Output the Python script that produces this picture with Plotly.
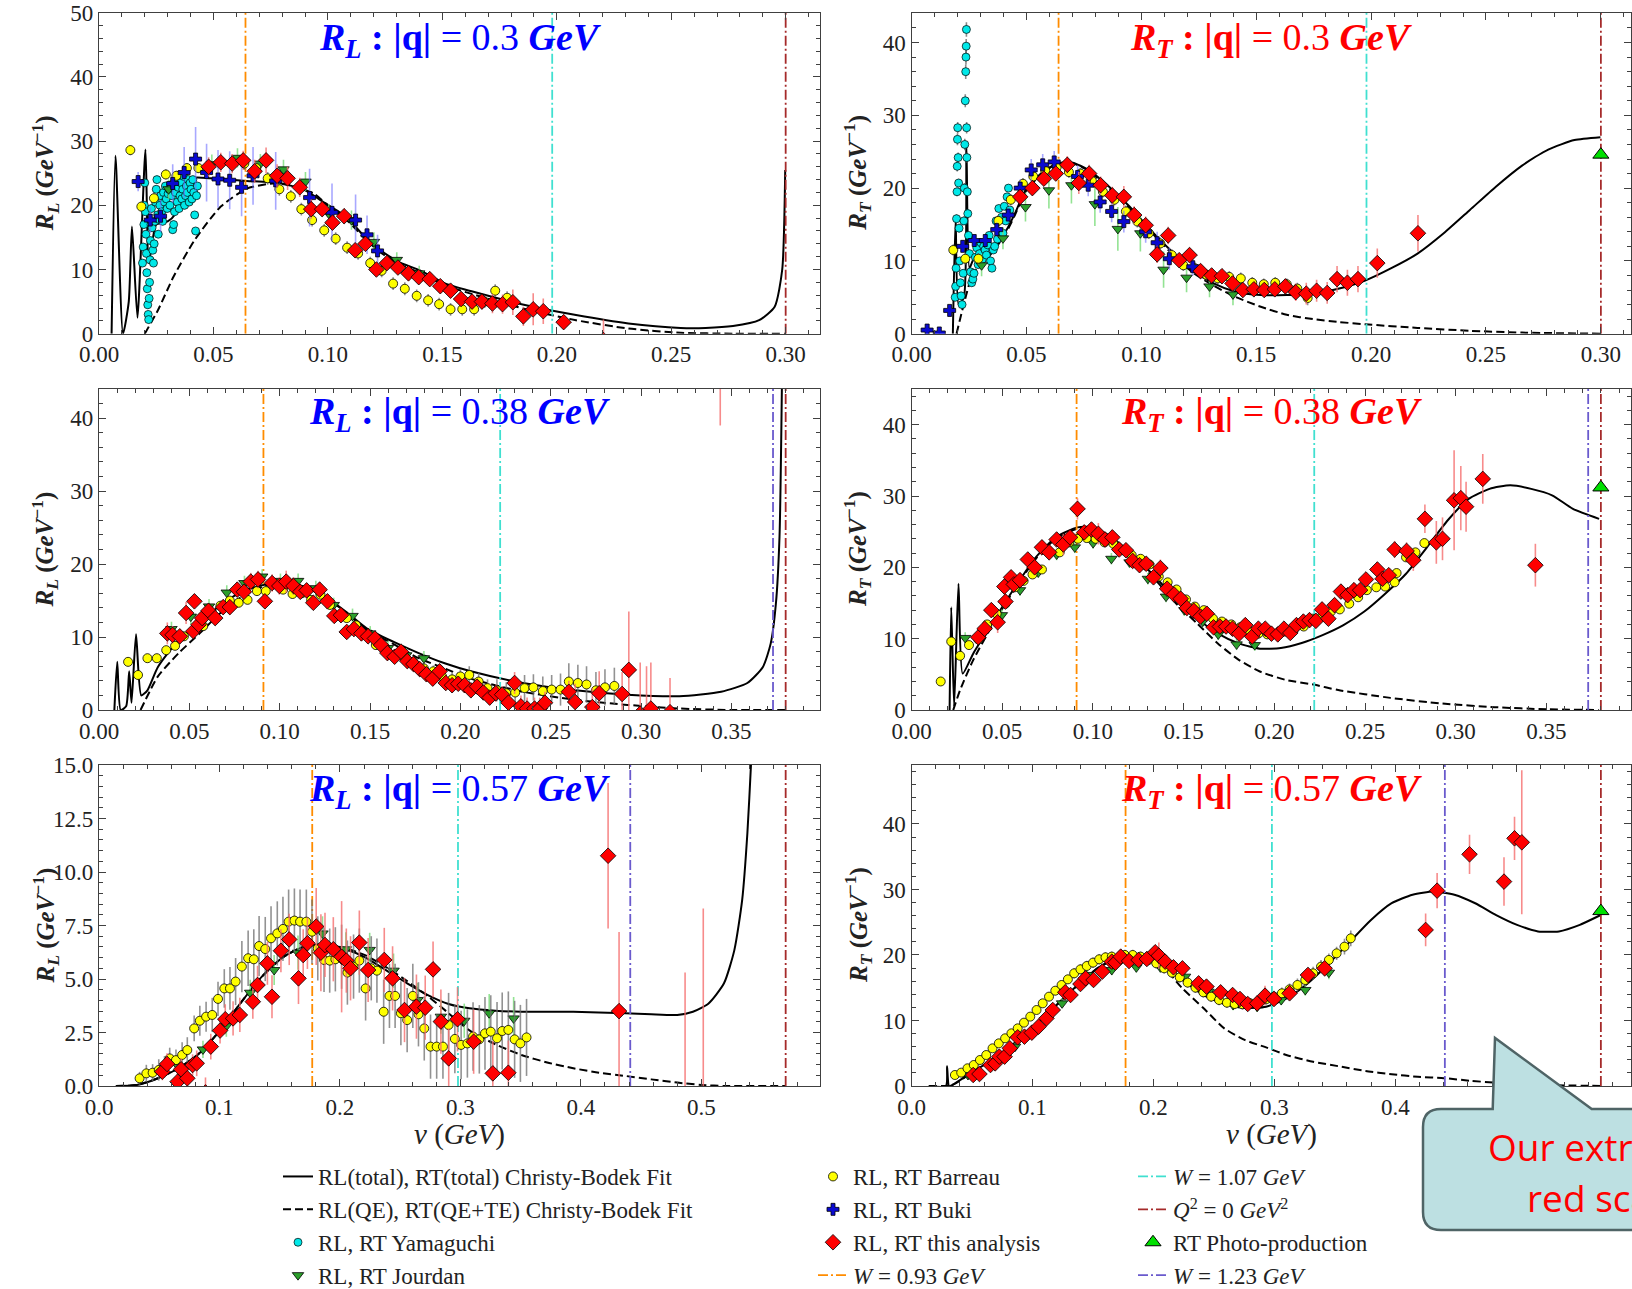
import plotly.graph_objects as go

# ------------------------------------------------------------------
# Data: longitudinal (RL) and transverse (RT) response functions
# for |q| = 0.30, 0.38 and 0.57 GeV.  Tuples are (nu, value) for fit
# curves and (nu, value, error) for measured points.
# ------------------------------------------------------------------
Q_VALUES = [0.30, 0.38, 0.57]
Q_LABELS = ["0.3", "0.38", "0.57"]
NU_W093 = [0.064, 0.091, 0.177]
NU_W107 = [0.198, 0.222, 0.298]
NU_W123 = [None, 0.373, 0.441]
NU_Q2ZERO = [0.30, 0.38, 0.57]

# ---------------- |q| = 0.30 GeV, RL ----------------
FIT_TOTAL_L30 = [(0.0055, 0.0), (0.0072, 27.7), (0.0105, 0.0), (0.0130, 5.0), (0.0144, 16.7), (0.0168, 2.5),
                 (0.0203, 28.7), (0.0218, 11.0), (0.0250, 17.0), (0.0300, 17.5), (0.0330, 18.5), (0.0361, 23.2),
                 (0.0420, 24.3), (0.0486, 24.2), (0.0560, 24.0), (0.0646, 23.8), (0.0783, 23.5), (0.0897, 22.4),
                 (0.0989, 20.3), (0.1080, 18.2), (0.1148, 15.6), (0.1217, 13.3), (0.1308, 11.2), (0.1400, 9.9),
                 (0.1514, 7.8), (0.1628, 6.6), (0.1856, 4.5), (0.2084, 2.9), (0.2313, 1.6), (0.2541, 0.9),
                 (0.2650, 0.9), (0.2770, 1.2), (0.2884, 2.1), (0.2952, 4.2), (0.2985, 10.0), (0.2998, 25.5)]
FIT_QE_L30 = [(0.0200, 0.0), (0.0258, 3.7), (0.0326, 8.9), (0.0418, 14.6), (0.0532, 19.8), (0.0646, 22.6),
              (0.0760, 23.4), (0.0851, 23.0), (0.0940, 21.8), (0.1000, 20.0), (0.1080, 17.8), (0.1148, 15.3),
              (0.1217, 13.0), (0.1308, 10.9), (0.1400, 9.5), (0.1514, 7.5), (0.1628, 6.2), (0.1856, 3.9),
              (0.2084, 2.1), (0.2313, 0.8), (0.2541, 0.15), (0.2770, 0.0), (0.3000, 0.0)]
YAMAGUCHI_L30 = [(0.0190, 11.0, 0.6), (0.0193, 13.5, 0.6), (0.0196, 17.0, 0.6), (0.0198, 20.0, 0.6), (0.0200, 23.5, 0.6),
                 (0.0203, 19.0, 0.6), (0.0205, 15.5, 0.6), (0.0207, 12.5, 0.6), (0.0209, 9.5, 0.6), (0.0211, 7.0, 0.6),
                 (0.0213, 4.5, 0.6), (0.0215, 3.0, 0.6), (0.0217, 2.2, 0.6), (0.0219, 5.5, 0.6), (0.0221, 8.0, 0.6),
                 (0.0223, 11.5, 0.6), (0.0225, 14.5, 0.6), (0.0227, 17.0, 0.6), (0.0229, 19.5, 0.6), (0.0232, 16.5, 0.6),
                 (0.0235, 13.0, 0.6), (0.0238, 11.0, 0.6), (0.0241, 14.0, 0.6), (0.0244, 17.5, 0.6), (0.0247, 20.5, 0.6),
                 (0.0250, 22.5, 0.6), (0.0253, 24.0, 0.6), (0.0256, 18.5, 0.6), (0.0259, 15.5, 0.6), (0.0262, 17.8, 0.6),
                 (0.0266, 20.0, 0.6), (0.0270, 21.5, 0.6), (0.0274, 19.0, 0.6), (0.0278, 17.5, 0.6), (0.0282, 22.0, 0.6),
                 (0.0286, 20.5, 0.6), (0.0290, 23.0, 0.6), (0.0294, 21.0, 0.6), (0.0298, 19.5, 0.6), (0.0302, 21.8, 0.6),
                 (0.0306, 22.5, 0.6), (0.0310, 20.0, 0.6), (0.0314, 23.2, 0.6), (0.0318, 21.5, 0.6), (0.0322, 16.2, 0.6),
                 (0.0326, 17.0, 0.6), (0.0330, 19.0, 0.6), (0.0334, 22.0, 0.6), (0.0338, 24.0, 0.6), (0.0342, 20.5, 0.6),
                 (0.0346, 22.8, 0.6), (0.0350, 19.5, 0.6), (0.0354, 21.5, 0.6), (0.0358, 23.5, 0.6), (0.0362, 21.0, 0.6),
                 (0.0366, 22.5, 0.6), (0.0370, 24.5, 0.6), (0.0374, 20.0, 0.6), (0.0378, 21.5, 0.6), (0.0382, 23.0, 0.6),
                 (0.0386, 22.0, 0.6), (0.0390, 24.0, 0.6), (0.0394, 20.5, 0.6), (0.0398, 23.5, 0.6), (0.0402, 22.5, 0.6),
                 (0.0406, 21.0, 0.6), (0.0410, 24.0, 0.6), (0.0414, 22.0, 0.6), (0.0418, 18.5, 0.6), (0.0422, 16.0, 0.6),
                 (0.0426, 21.5, 0.6), (0.0430, 23.0, 0.6)]
JOURDAN_L30 = [(0.0304, 22.5, 1.5), (0.0493, 26.4, 1.5), (0.0605, 27.4, 1.5), (0.0705, 26.5, 1.5), (0.0806, 25.6, 1.5),
               (0.0902, 23.7, 1.5), (0.1004, 18.7, 1.5), (0.1103, 17.7, 1.5), (0.1201, 14.3, 1.5), (0.1301, 11.5, 1.2),
               (0.1399, 9.4, 1.2)]
BARREAU_L30 = [(0.0137, 28.6, 0.8), (0.0185, 19.8, 0.8), (0.0240, 21.1, 0.8), (0.0292, 24.8, 0.8), (0.0338, 24.6, 0.8),
               (0.0384, 25.8, 0.8), (0.0434, 25.8, 0.8), (0.0635, 26.5, 1.0), (0.0687, 25.8, 1.0), (0.0737, 24.2, 1.0),
               (0.0788, 22.5, 1.0), (0.0838, 21.4, 1.0), (0.0884, 19.4, 1.0), (0.0931, 17.7, 1.0), (0.0984, 16.1, 1.0),
               (0.1034, 14.8, 1.0), (0.1084, 13.4, 1.0), (0.1132, 12.5, 1.0), (0.1185, 11.0, 1.0), (0.1235, 9.8, 1.0),
               (0.1285, 7.8, 1.0), (0.1336, 7.0, 1.0), (0.1388, 5.9, 1.0), (0.1438, 5.2, 1.0), (0.1486, 4.6, 1.0),
               (0.1536, 3.8, 1.0), (0.1587, 3.8, 1.0), (0.1639, 3.8, 1.0), (0.1685, 5.0, 1.0), (0.1731, 6.7, 1.0),
               (0.1783, 5.6, 1.0)]
BUKI_L30 = [(0.0171, 23.7, 1.5), (0.0224, 17.7, 2.0), (0.0269, 18.3, 2.5), (0.0322, 23.4, 3.0), (0.0372, 25.1, 4.0),
            (0.0422, 27.2, 5.0), (0.0470, 25.1, 4.5), (0.0520, 24.1, 4.5), (0.0571, 23.9, 4.5), (0.0623, 22.8, 4.5),
            (0.0673, 24.6, 4.5), (0.0772, 23.8, 4.5), (0.0920, 21.2, 4.5), (0.1018, 18.9, 4.5), (0.1121, 17.7, 4.0),
            (0.1171, 15.4, 3.0), (0.1217, 12.9, 2.5)]
THIS_L30 = [(0.0479, 26.0, 1.5), (0.0532, 26.7, 1.5), (0.0582, 26.5, 1.5), (0.0630, 27.0, 1.5), (0.0680, 25.3, 1.8),
            (0.0730, 27.0, 2.0), (0.0778, 24.6, 1.8), (0.0824, 24.2, 1.8), (0.0877, 22.8, 1.5), (0.0927, 19.4, 1.5),
            (0.0975, 19.4, 1.2), (0.1020, 17.3, 1.2), (0.1071, 18.3, 1.2), (0.1119, 13.0, 1.0), (0.1164, 14.0, 1.0),
            (0.1212, 10.0, 1.0), (0.1258, 11.0, 1.0), (0.1306, 10.3, 1.0), (0.1352, 9.4, 1.0), (0.1397, 8.8, 1.0),
            (0.1445, 8.5, 1.0), (0.1491, 7.4, 1.0), (0.1536, 6.7, 1.0), (0.1582, 5.4, 1.0), (0.1630, 5.0, 1.0),
            (0.1673, 5.0, 1.2), (0.1719, 4.7, 1.5), (0.1763, 4.6, 1.5), (0.1808, 4.9, 2.0), (0.1854, 2.7, 1.5),
            (0.1897, 3.8, 2.5), (0.1941, 3.5, 2.0), (0.2030, 1.8, 1.0), (0.2204, -1.0, 3.2)]

# ---------------- |q| = 0.30 GeV, RT ----------------
FIT_TOTAL_T30 = [(0.0180, 0.0), (0.0192, 16.0), (0.0205, 4.0), (0.0228, 5.0), (0.0239, 26.0), (0.0252, 9.0),
                 (0.0268, 10.1), (0.0300, 11.0), (0.0337, 11.0), (0.0405, 13.8), (0.0450, 16.5), (0.0496, 19.7),
                 (0.0564, 22.0), (0.0632, 23.4), (0.0701, 23.5), (0.0769, 22.5), (0.0860, 20.2), (0.0951, 17.4),
                 (0.1042, 14.2), (0.1133, 11.3), (0.1224, 8.7), (0.1315, 6.9), (0.1406, 5.8), (0.1520, 5.3),
                 (0.1633, 5.3), (0.1747, 5.5), (0.1861, 6.2), (0.1974, 7.3), (0.2088, 9.0), (0.2202, 11.0),
                 (0.2316, 13.8), (0.2430, 17.0), (0.2543, 20.2), (0.2657, 23.1), (0.2771, 25.3), (0.2885, 26.6),
                 (0.2998, 27.0)]
FIT_QE_T30 = [(0.0196, 0.0), (0.0225, 3.7), (0.0268, 8.3), (0.0337, 10.6), (0.0405, 13.5), (0.0450, 16.3),
              (0.0496, 19.5), (0.0564, 21.9), (0.0632, 23.3), (0.0701, 23.4), (0.0769, 22.4), (0.0860, 20.0),
              (0.0951, 17.2), (0.1042, 14.0), (0.1133, 11.0), (0.1224, 8.4), (0.1315, 6.6), (0.1406, 5.1),
              (0.1520, 3.7), (0.1633, 2.6), (0.1747, 2.0), (0.1861, 1.6), (0.1974, 1.3), (0.2202, 0.8),
              (0.2430, 0.4), (0.2657, 0.15), (0.3000, 0.0)]
YAMAGUCHI_T30 = [(0.0190, 5.0, 0.5), (0.0192, 6.5, 0.5), (0.0194, 9.0, 0.5), (0.0196, 15.8, 0.6), (0.0198, 19.5, 0.6),
                 (0.0199, 23.0, 0.7), (0.0200, 26.7, 0.8), (0.0201, 28.3, 0.8), (0.0203, 24.2, 0.7), (0.0205, 20.7, 0.6),
                 (0.0207, 14.5, 0.6), (0.0210, 10.0, 0.5), (0.0213, 7.0, 0.5), (0.0216, 5.2, 0.5), (0.0220, 4.0, 0.5),
                 (0.0225, 8.3, 0.5), (0.0228, 15.5, 0.6), (0.0230, 20.0, 0.7), (0.0232, 26.0, 0.8), (0.0234, 32.0, 0.9),
                 (0.0236, 36.0, 1.0), (0.0237, 38.0, 1.0), (0.0238, 39.5, 1.0), (0.0239, 41.8, 1.0), (0.0240, 28.3, 0.8),
                 (0.0241, 24.2, 0.7), (0.0243, 19.5, 0.6), (0.0245, 16.5, 0.6), (0.0248, 13.5, 0.5), (0.0252, 11.0, 0.5),
                 (0.0257, 8.5, 0.5), (0.0262, 7.0, 0.5), (0.0267, 7.5, 0.5), (0.0272, 8.3, 0.5), (0.0278, 10.5, 0.5),
                 (0.0284, 11.8, 0.5), (0.0290, 9.5, 0.5), (0.0296, 11.0, 0.5), (0.0302, 12.5, 0.5), (0.0308, 10.2, 0.5),
                 (0.0314, 12.0, 0.5), (0.0320, 11.5, 0.5), (0.0326, 10.8, 0.5), (0.0332, 12.2, 0.5), (0.0338, 13.5, 0.5),
                 (0.0344, 10.0, 0.5), (0.0350, 9.0, 0.5), (0.0356, 11.5, 0.5), (0.0362, 12.0, 0.5), (0.0368, 15.5, 0.5),
                 (0.0374, 13.0, 0.5), (0.0380, 17.2, 0.5), (0.0386, 14.0, 0.5), (0.0392, 16.0, 0.5), (0.0398, 13.8, 0.5),
                 (0.0404, 17.5, 0.5), (0.0410, 15.5, 0.5), (0.0416, 18.8, 0.5), (0.0422, 20.0, 0.5), (0.0428, 17.0, 0.5)]
JOURDAN_T30 = [(0.0305, 9.4, 1.5), (0.0398, 13.1, 1.5), (0.0496, 17.4, 2.0), (0.0598, 19.7, 2.5), (0.0696, 20.4, 2.5),
               (0.0798, 17.8, 3.0), (0.0898, 14.4, 3.0), (0.0996, 13.8, 2.5), (0.1097, 8.8, 2.5), (0.1197, 7.7, 2.0),
               (0.1297, 6.5, 1.5), (0.1399, 5.4, 1.5)]
BARREAU_T30 = [(0.0182, 11.5, 0.8), (0.0234, 10.3, 0.8), (0.0291, 10.3, 0.8), (0.0378, 15.5, 0.8), (0.0432, 18.4, 0.8),
               (0.0485, 20.6, 0.8), (0.0530, 21.6, 0.8), (0.0582, 22.4, 0.8), (0.0632, 22.9, 0.8), (0.0685, 22.2, 0.8),
               (0.0735, 22.0, 0.8), (0.0785, 21.0, 0.8), (0.0833, 19.5, 0.8), (0.0883, 18.4, 0.8), (0.0933, 16.8, 0.8),
               (0.0983, 15.4, 0.8), (0.1033, 13.8, 0.8), (0.1083, 12.4, 0.8), (0.1133, 10.8, 0.8), (0.1183, 9.4, 0.8),
               (0.1233, 9.0, 0.8), (0.1283, 8.1, 0.8), (0.1333, 7.6, 0.8), (0.1383, 7.8, 0.8), (0.1433, 7.6, 0.8),
               (0.1483, 7.0, 0.8), (0.1533, 6.8, 0.8), (0.1583, 7.0, 0.8), (0.1633, 6.8, 0.8), (0.1679, 6.2, 0.8),
               (0.1724, 4.9, 1.0)]
BUKI_T30 = [(0.0068, 0.5, 0.3), (0.0121, 0.1, 0.3), (0.0166, 3.2, 0.5), (0.0223, 12.0, 0.8), (0.0273, 12.8, 0.8),
            (0.0321, 12.8, 0.8), (0.0371, 14.3, 1.0), (0.0421, 16.3, 1.0), (0.0473, 20.0, 1.2), (0.0521, 22.5, 1.5),
            (0.0571, 23.2, 1.5), (0.0621, 23.6, 1.5), (0.0723, 21.6, 1.5), (0.0769, 20.4, 1.5), (0.0821, 18.1, 1.5),
            (0.0871, 16.8, 1.5), (0.0924, 15.4, 1.5), (0.1019, 14.0, 1.5), (0.1069, 12.5, 1.5), (0.1122, 10.3, 1.5),
            (0.1224, 9.2, 1.2)]
THIS_T30 = [(0.0473, 18.8, 1.0), (0.0526, 20.0, 1.0), (0.0576, 21.3, 1.0), (0.0628, 22.0, 1.0), (0.0678, 23.2, 1.2),
            (0.0728, 20.7, 1.5), (0.0773, 22.0, 1.2), (0.0823, 20.4, 1.2), (0.0874, 19.0, 1.2), (0.0924, 18.8, 1.5),
            (0.0969, 16.3, 1.2), (0.1019, 14.9, 1.2), (0.1069, 10.9, 1.2), (0.1117, 13.5, 1.2), (0.1165, 10.1, 1.0),
            (0.1210, 10.8, 1.0), (0.1258, 8.6, 1.0), (0.1306, 8.0, 1.0), (0.1351, 7.9, 1.0), (0.1397, 6.9, 1.0),
            (0.1442, 6.0, 1.0), (0.1490, 6.1, 1.0), (0.1535, 6.0, 1.0), (0.1581, 6.1, 1.0), (0.1627, 6.5, 1.0),
            (0.1672, 5.7, 1.2), (0.1718, 5.5, 1.5), (0.1763, 5.9, 1.5), (0.1809, 5.6, 1.5), (0.1852, 7.5, 1.8),
            (0.1897, 7.0, 1.8), (0.1943, 7.5, 1.8), (0.2027, 9.7, 2.0), (0.2204, 13.8, 2.5)]
PHOTO_T30 = [(0.300, 24.6)]

# ---------------- |q| = 0.38 GeV, RL ----------------
FIT_TOTAL_L38 = [(0.0085, 0.0), (0.0101, 6.6), (0.0120, 0.0), (0.0150, 0.5), (0.0167, 5.3), (0.0180, 1.0),
                 (0.0205, 10.4), (0.0234, 2.0), (0.0268, 2.7), (0.0326, 5.9), (0.0441, 9.6), (0.0557, 11.9),
                 (0.0672, 14.4), (0.0788, 16.2), (0.0903, 17.1), (0.1019, 17.4), (0.1134, 16.9), (0.1250, 15.5),
                 (0.1365, 13.5), (0.1481, 11.2), (0.1625, 9.4), (0.1769, 7.8), (0.1913, 6.4), (0.2058, 5.3),
                 (0.2346, 3.7), (0.2635, 2.7), (0.2924, 2.1), (0.3212, 1.9), (0.3443, 2.5), (0.3588, 3.7),
                 (0.3674, 5.9), (0.3717, 9.1), (0.3746, 14.6), (0.3766, 23.8), (0.3780, 46.0)]
FIT_QE_L38 = [(0.0230, 0.0), (0.0326, 4.6), (0.0441, 7.8), (0.0557, 10.5), (0.0672, 13.3), (0.0788, 15.5),
              (0.0903, 16.9), (0.1019, 17.4), (0.1134, 16.9), (0.1250, 15.5), (0.1365, 13.4), (0.1481, 11.0),
              (0.1625, 9.1), (0.1769, 7.1), (0.1913, 5.7), (0.2058, 4.3), (0.2346, 2.5), (0.2635, 1.4),
              (0.2924, 0.7), (0.3212, 0.2), (0.3500, 0.0), (0.3800, 0.0)]
JOURDAN_L38 = [(0.0401, 11.1, 1.0), (0.0508, 12.8, 1.0), (0.0609, 14.2, 1.0), (0.0707, 16.1, 1.0), (0.0805, 17.4, 1.0),
               (0.0903, 18.3, 1.0), (0.1004, 17.7, 1.0), (0.1102, 17.7, 1.0), (0.1200, 16.7, 1.0), (0.1299, 14.4, 1.0),
               (0.1403, 12.9, 1.0), (0.1501, 10.5, 1.0), (0.1599, 8.5, 1.0), (0.1700, 7.5, 1.0), (0.1798, 7.1, 1.0)]
BARREAU_L38 = [(0.0161, 6.6, 0.6), (0.0216, 4.8, 0.6), (0.0268, 7.1, 0.6), (0.0320, 7.1, 0.6), (0.0372, 8.2, 0.6),
               (0.0421, 8.8, 0.6), (0.0470, 10.1, 0.6), (0.0577, 11.5, 0.6), (0.0672, 14.3, 0.6), (0.0724, 15.0, 0.6),
               (0.0773, 14.7, 0.6), (0.0822, 15.1, 0.6), (0.0874, 16.3, 0.6), (0.0923, 16.3, 0.6), (0.1019, 16.5, 0.6),
               (0.1071, 15.9, 0.6), (0.1123, 16.0, 0.6), (0.1174, 15.1, 0.6), (0.1226, 15.8, 0.6), (0.1278, 14.4, 0.6),
               (0.1371, 12.6, 0.6), (0.1423, 11.6, 0.6), (0.1481, 10.3, 0.6), (0.1532, 8.9, 0.6), (0.1584, 8.5, 0.6),
               (0.1642, 7.5, 0.8), (0.1691, 7.1, 0.8), (0.1740, 6.6, 0.8), (0.1798, 5.7, 0.8), (0.1850, 5.3, 0.8),
               (0.1899, 4.6, 1.0), (0.1954, 4.2, 1.0), (0.2000, 4.6, 1.0), (0.2049, 4.8, 1.2), (0.2101, 3.9, 1.2),
               (0.2150, 3.0, 1.2), (0.2202, 2.7, 1.5), (0.2254, 2.3, 1.5), (0.2303, 2.4, 1.5), (0.2355, 3.0, 1.8),
               (0.2404, 3.1, 1.8), (0.2456, 2.6, 2.0), (0.2505, 2.8, 2.0), (0.2554, 2.8, 2.2), (0.2600, 3.9, 2.5),
               (0.2650, 3.7, 2.5), (0.2698, 3.5, 2.5), (0.2750, 2.7, 2.5), (0.2800, 3.1, 2.5), (0.2852, 3.3, 2.5)]
THIS_L38 = [(0.0378, 10.5, 1.5), (0.0407, 10.3, 1.2), (0.0447, 10.1, 1.0), (0.0482, 13.3, 1.5), (0.0522, 10.8, 1.0),
            (0.0528, 14.9, 1.0), (0.0551, 11.7, 1.0), (0.0571, 12.6, 1.0), (0.0606, 13.6, 1.0), (0.0643, 12.6, 1.0),
            (0.0687, 14.1, 1.0), (0.0724, 14.1, 1.0), (0.0765, 16.5, 1.0), (0.0802, 16.2, 1.0), (0.0840, 17.6, 1.2),
            (0.0880, 17.9, 1.2), (0.0918, 14.9, 1.0), (0.0958, 17.4, 1.2), (0.0998, 17.0, 1.2), (0.1036, 17.6, 1.5),
            (0.1076, 17.0, 1.2), (0.1114, 16.2, 1.0), (0.1149, 16.4, 1.0), (0.1186, 14.7, 1.0), (0.1221, 16.5, 1.0),
            (0.1264, 14.9, 1.0), (0.1302, 12.9, 1.0), (0.1339, 13.0, 1.0), (0.1371, 10.7, 1.0), (0.1411, 11.1, 1.0),
            (0.1452, 10.5, 1.0), (0.1489, 10.1, 1.0), (0.1527, 9.8, 1.0), (0.1561, 8.9, 1.0), (0.1596, 7.8, 1.0),
            (0.1636, 7.3, 1.0), (0.1671, 8.0, 1.0), (0.1706, 6.7, 1.0), (0.1740, 6.3, 1.0), (0.1775, 5.6, 1.0),
            (0.1812, 4.9, 1.0), (0.1847, 4.3, 1.0), (0.1885, 5.3, 1.0), (0.1919, 3.7, 1.0), (0.1954, 3.4, 1.0),
            (0.1988, 3.6, 1.0), (0.2023, 3.4, 1.0), (0.2058, 2.7, 1.0), (0.2092, 3.2, 1.0), (0.2127, 2.4, 1.0),
            (0.2162, 1.7, 1.0), (0.2196, 2.3, 1.2), (0.2231, 2.1, 1.2), (0.2266, 1.0, 1.2), (0.2300, 3.7, 1.5),
            (0.2335, 0.5, 1.5), (0.2369, 0.2, 1.5), (0.2410, 0.2, 1.5), (0.2439, 0.2, 1.5), (0.2468, 1.0, 1.5),
            (0.2600, 2.5, 1.5), (0.2635, 1.1, 2.5), (0.2730, 0.4, 2.6), (0.2768, 2.3, 3.0), (0.2895, 2.2, 3.0),
            (0.2932, 5.5, 8.0), (0.2995, -0.5, 7.0), (0.3030, -0.8, 6.8), (0.3054, 0.2, 6.3), (0.3160, -0.3, 4.7),
            (0.3438, 50.0, 11.0)]

# ---------------- |q| = 0.38 GeV, RT ----------------
FIT_TOTAL_T38 = [(0.0210, 0.0), (0.0219, 14.4), (0.0235, 0.5), (0.0259, 17.7), (0.0282, 5.1), (0.0340, 7.9),
                 (0.0455, 12.6), (0.0570, 17.2), (0.0685, 21.4), (0.0800, 24.3), (0.0915, 25.6), (0.1001, 25.6),
                 (0.1116, 24.0), (0.1230, 21.4), (0.1346, 18.6), (0.1460, 15.4), (0.1576, 12.8), (0.1690, 10.7),
                 (0.1806, 9.3), (0.1920, 8.6), (0.2036, 8.7), (0.2151, 9.4), (0.2266, 10.5), (0.2381, 11.9),
                 (0.2496, 13.8), (0.2611, 16.3), (0.2726, 19.1), (0.2841, 22.8), (0.2956, 26.6), (0.3071, 29.6),
                 (0.3186, 31.0), (0.3301, 31.5), (0.3416, 31.0), (0.3531, 30.1), (0.3646, 28.2), (0.3790, 26.8)]
FIT_QE_T38 = [(0.0230, 0.0), (0.0268, 2.8), (0.0340, 7.0), (0.0455, 12.3), (0.0570, 17.0), (0.0685, 21.2),
              (0.0800, 24.1), (0.0915, 25.4), (0.1001, 25.4), (0.1116, 23.8), (0.1230, 21.1), (0.1346, 18.2),
              (0.1460, 14.9), (0.1576, 12.1), (0.1690, 9.3), (0.1806, 7.0), (0.1920, 5.4), (0.2065, 4.2),
              (0.2208, 3.6), (0.2352, 2.8), (0.2640, 1.7), (0.2927, 0.9), (0.3215, 0.4), (0.3500, 0.1), (0.3790, 0.0)]
JOURDAN_T38 = [(0.0296, 10.1, 0.8), (0.0397, 10.7, 0.8), (0.0498, 13.3, 0.8), (0.0598, 16.8, 0.8), (0.0699, 19.3, 0.8),
               (0.0800, 21.8, 0.8), (0.0900, 22.8, 0.8), (0.1001, 23.4, 0.8), (0.1102, 21.2, 0.8), (0.1202, 20.7, 0.8),
               (0.1303, 18.4, 0.8), (0.1403, 15.9, 0.8), (0.1504, 14.0, 0.8), (0.1605, 12.4, 0.8), (0.1691, 10.6, 0.8),
               (0.1792, 9.2, 0.8), (0.1892, 9.1, 0.8)]
BARREAU_T38 = [(0.0161, 4.0, 0.5), (0.0219, 9.6, 0.5), (0.0268, 7.6, 0.5), (0.0317, 9.1, 0.5), (0.0368, 9.9, 0.5),
               (0.0417, 12.0, 0.5), (0.0469, 13.5, 0.5), (0.0518, 14.9, 0.5), (0.0570, 17.2, 0.5), (0.0618, 18.1, 0.5),
               (0.0667, 19.0, 0.5), (0.0719, 19.7, 0.5), (0.0817, 22.1, 0.5), (0.0869, 23.5, 0.5), (0.0918, 24.0, 0.5),
               (0.0966, 24.1, 0.5), (0.1015, 24.0, 0.5), (0.1064, 23.5, 0.5), (0.1113, 23.3, 0.5), (0.1162, 22.4, 0.5),
               (0.1214, 21.7, 0.5), (0.1263, 21.2, 0.5), (0.1312, 20.4, 0.5), (0.1363, 18.7, 0.5), (0.1412, 17.9, 0.5),
               (0.1461, 16.9, 0.5), (0.1513, 15.5, 0.5), (0.1562, 14.5, 0.5), (0.1611, 14.0, 0.5), (0.1662, 12.8, 0.5),
               (0.1711, 12.4, 0.5), (0.1763, 12.0, 0.5), (0.1812, 11.6, 0.5), (0.1861, 11.1, 0.5), (0.1912, 10.7, 0.5),
               (0.1961, 10.6, 0.5), (0.2013, 10.7, 0.5), (0.2062, 11.0, 0.5), (0.2111, 11.4, 0.5), (0.2162, 11.7, 0.5),
               (0.2211, 12.8, 0.5), (0.2263, 13.1, 0.5), (0.2312, 13.8, 0.5), (0.2361, 14.1, 0.5), (0.2413, 14.9, 0.5),
               (0.2462, 15.8, 0.5), (0.2510, 16.8, 0.5), (0.2562, 17.2, 0.5), (0.2611, 17.3, 0.5), (0.2663, 17.9, 0.5),
               (0.2674, 19.2, 0.5), (0.2726, 21.4, 0.5), (0.2778, 22.1, 0.5), (0.2827, 23.4, 0.5)]
THIS_T38 = [(0.0368, 10.2, 1.0), (0.0403, 11.4, 1.0), (0.0440, 14.0, 1.0), (0.0475, 12.3, 1.5), (0.0512, 17.3, 1.0),
            (0.0518, 15.2, 1.0), (0.0549, 18.6, 1.0), (0.0564, 17.6, 1.0), (0.0598, 18.2, 1.0), (0.0641, 21.1, 1.0),
            (0.0679, 20.0, 1.0), (0.0719, 22.8, 1.0), (0.0759, 22.1, 1.0), (0.0800, 23.9, 1.0), (0.0837, 23.2, 1.5),
            (0.0874, 24.2, 1.0), (0.0915, 28.2, 1.5), (0.0952, 24.9, 1.0), (0.0992, 25.3, 1.0), (0.1030, 24.7, 1.5),
            (0.1067, 23.9, 1.0), (0.1107, 24.2, 1.0), (0.1145, 22.5, 1.0), (0.1182, 22.4, 1.0), (0.1219, 20.9, 1.0),
            (0.1257, 20.3, 1.0), (0.1294, 20.5, 1.0), (0.1334, 18.6, 1.0), (0.1372, 19.9, 1.2), (0.1409, 17.0, 1.0),
            (0.1447, 16.2, 1.0), (0.1484, 15.6, 1.0), (0.1518, 14.3, 1.0), (0.1556, 13.9, 1.0), (0.1593, 13.1, 1.0),
            (0.1628, 13.5, 1.0), (0.1665, 11.6, 1.0), (0.1700, 11.7, 1.0), (0.1734, 11.7, 1.0), (0.1769, 11.4, 1.0),
            (0.1806, 10.7, 1.0), (0.1840, 11.9, 1.0), (0.1878, 10.3, 1.0), (0.1912, 11.4, 1.0), (0.1950, 11.4, 1.0),
            (0.1984, 10.7, 1.0), (0.2019, 10.6, 1.0), (0.2053, 11.4, 1.0), (0.2088, 10.8, 1.0), (0.2122, 11.9, 1.0),
            (0.2160, 12.4, 1.0), (0.2194, 12.6, 1.0), (0.2229, 12.5, 1.0), (0.2263, 14.1, 1.0), (0.2298, 12.8, 1.0),
            (0.2332, 14.7, 1.0), (0.2367, 16.6, 1.0), (0.2404, 16.1, 1.0), (0.2439, 16.8, 1.0), (0.2473, 16.8, 1.0),
            (0.2505, 18.3, 1.0), (0.2568, 19.7, 1.0), (0.2597, 18.4, 1.0), (0.2631, 18.9, 1.0), (0.2663, 22.5, 1.2),
            (0.2729, 22.3, 1.2), (0.2766, 21.0, 1.5), (0.2830, 26.8, 2.0), (0.2893, 23.5, 3.0), (0.2927, 24.0, 3.0),
            (0.2991, 29.4, 7.0), (0.3028, 29.7, 4.5), (0.3057, 28.5, 3.5), (0.3149, 32.4, 3.5), (0.3439, 20.3, 3.0)]
PHOTO_T38 = [(0.380, 31.2)]

# ---------------- |q| = 0.57 GeV, RL ----------------
FIT_TOTAL_L57 = [(0.0140, 0.0), (0.0315, 0.05), (0.0490, 0.36), (0.0660, 0.83), (0.0833, 1.53), (0.1005, 2.6),
                 (0.1178, 3.9), (0.1350, 5.1), (0.1523, 6.0), (0.1695, 6.5), (0.1868, 6.6), (0.2040, 6.4),
                 (0.2213, 6.0), (0.2385, 5.4), (0.2558, 4.8), (0.2730, 4.25), (0.2902, 3.83), (0.3075, 3.63),
                 (0.3290, 3.52), (0.3506, 3.47), (0.3937, 3.47), (0.4369, 3.40), (0.4584, 3.35), (0.4800, 3.32),
                 (0.4930, 3.47), (0.5060, 3.86), (0.5188, 4.8), (0.5274, 6.35), (0.5339, 8.7), (0.5382, 11.8),
                 (0.5412, 15.0), (0.5450, 20.0)]
FIT_QE_L57 = [(0.0140, 0.0), (0.0315, 0.05), (0.0490, 0.36), (0.0660, 0.83), (0.0833, 1.53), (0.1005, 2.6),
              (0.1178, 3.9), (0.1350, 5.1), (0.1523, 6.0), (0.1695, 6.5), (0.1868, 6.6), (0.2040, 6.45),
              (0.2213, 6.1), (0.2385, 5.55), (0.2558, 4.9), (0.2730, 4.2), (0.2902, 3.4), (0.3075, 2.6),
              (0.3290, 1.95), (0.3506, 1.45), (0.3720, 1.1), (0.3937, 0.83), (0.4150, 0.62), (0.4369, 0.47),
              (0.4584, 0.31), (0.4800, 0.16), (0.5000, 0.05), (0.5200, 0.0), (0.5700, 0.0)]
JOURDAN_L57 = [(0.0660, 0.90, 0.4), (0.0863, 1.71, 0.4), (0.1057, 2.80, 0.5), (0.1255, 4.36, 0.6), (0.1454, 5.42, 0.7),
               (0.1652, 6.23, 0.8), (0.1855, 7.13, 0.8), (0.2049, 6.39, 0.8), (0.2247, 6.36, 0.8), (0.2445, 5.39, 0.8),
               (0.2644, 4.02, 0.8), (0.2838, 3.24, 0.8), (0.3032, 3.05, 0.8), (0.3239, 3.40, 0.9), (0.3442, 3.16, 1.0)]
BARREAU_L57 = [(0.0337, 0.36, 0.3), (0.0393, 0.59, 0.4), (0.0445, 0.62, 0.4), (0.0496, 0.75, 0.5), (0.0544, 0.90, 0.5),
               (0.0587, 1.29, 0.5), (0.0639, 1.21, 0.5), (0.0690, 1.45, 0.6), (0.0733, 1.68, 0.6), (0.0790, 2.69, 0.6),
               (0.0837, 3.05, 0.7), (0.0889, 3.24, 0.7), (0.0940, 3.32, 0.8), (0.0988, 4.07, 0.8), (0.1040, 4.56, 0.9),
               (0.1087, 4.56, 1.0), (0.1134, 4.88, 1.1), (0.1186, 5.58, 1.2), (0.1238, 5.97, 1.3), (0.1285, 5.92, 1.4),
               (0.1329, 6.54, 1.4), (0.1380, 6.40, 1.5), (0.1428, 6.90, 1.5), (0.1480, 7.13, 1.5), (0.1527, 7.34, 1.5),
               (0.1574, 7.68, 1.5), (0.1622, 7.73, 1.5), (0.1669, 7.68, 1.5), (0.1721, 7.68, 1.5), (0.1768, 7.21, 1.5),
               (0.1816, 6.43, 1.5), (0.1868, 5.89, 1.5), (0.1915, 5.86, 1.5), (0.1962, 5.92, 1.5), (0.2014, 6.04, 1.5),
               (0.2062, 5.30, 1.5), (0.2113, 5.58, 1.5), (0.2161, 5.86, 1.5), (0.2213, 4.56, 1.5), (0.2260, 5.50, 1.5),
               (0.2307, 5.39, 1.5), (0.2363, 3.47, 1.5), (0.2411, 4.21, 1.5), (0.2458, 4.21, 1.5), (0.2506, 3.40, 1.5),
               (0.2558, 3.08, 1.5), (0.2605, 4.21, 1.5), (0.2652, 3.35, 1.5), (0.2700, 2.69, 1.5), (0.2752, 1.84, 1.5),
               (0.2803, 1.84, 1.5), (0.2855, 1.84, 1.5), (0.2902, 2.85, 1.5), (0.2954, 2.20, 1.6), (0.3006, 1.92, 1.6),
               (0.3058, 1.99, 1.6), (0.3105, 2.31, 1.6), (0.3157, 2.18, 1.6), (0.3204, 2.46, 1.7), (0.3252, 2.54, 1.7),
               (0.3304, 2.23, 1.7), (0.3347, 2.57, 1.8), (0.3398, 2.62, 1.8), (0.3450, 2.18, 1.8), (0.3498, 1.99, 1.8),
               (0.3549, 2.27, 1.8)]
THIS_L57 = [(0.0526, 0.67, 0.4), (0.0565, 1.03, 0.5), (0.0652, 0.20, 0.5), (0.0682, 0.78, 0.5), (0.0733, 0.36, 0.5),
            (0.0777, 0.98, 0.5), (0.0811, 1.06, 0.6), (0.0884, -0.3, 0.7), (0.0928, 1.84, 0.6), (0.1005, 2.59, 0.6),
            (0.1048, 3.12, 0.7), (0.1113, 3.16, 0.8), (0.1169, 3.32, 0.8), (0.1277, 3.94, 0.8), (0.1316, 4.72, 0.9),
            (0.1398, 5.73, 1.0), (0.1436, 4.17, 1.0), (0.1510, 6.32, 1.0), (0.1579, 6.85, 1.2), (0.1656, 5.03, 1.2),
            (0.1695, 6.12, 1.2), (0.1730, 6.67, 1.2), (0.1803, 7.45, 1.8), (0.1842, 6.23, 1.8), (0.1876, 6.59, 1.5),
            (0.1945, 6.39, 1.5), (0.2014, 6.04, 2.6), (0.2053, 5.86, 1.5), (0.2088, 5.50, 1.5), (0.2161, 6.70, 1.5),
            (0.2234, 5.42, 1.5), (0.2368, 5.89, 1.5), (0.2437, 5.03, 1.5), (0.2536, 3.55, 1.5), (0.2635, 3.71, 1.5),
            (0.2708, 3.66, 1.5), (0.2773, 5.45, 1.3), (0.2838, 3.01, 1.5), (0.2903, 1.29, 1.4), (0.2976, 3.12, 1.5),
            (0.3110, 2.07, 1.5), (0.3269, 0.59, 1.5), (0.3398, 0.62, 1.5), (0.4226, 10.76, 3.4), (0.4317, 3.50, 3.7),
            (0.4865, -0.5, 5.8), (0.5016, -0.5, 8.8)]

# ---------------- |q| = 0.57 GeV, RT ----------------
FIT_TOTAL_T57 = [(0.0143, 0.0), (0.0285, 0.0), (0.0294, 3.0), (0.0310, 0.0), (0.0337, 0.15), (0.0510, 2.2),
                 (0.0683, 4.2), (0.0856, 6.6), (0.1029, 9.3), (0.1202, 12.4), (0.1375, 15.4), (0.1548, 18.1),
                 (0.1721, 19.7), (0.1894, 19.8), (0.2067, 18.7), (0.2240, 16.2), (0.2413, 13.9), (0.2586, 12.5),
                 (0.2759, 11.9), (0.2932, 12.1), (0.3105, 13.4), (0.3278, 15.7), (0.3451, 18.7), (0.3624, 22.0),
                 (0.3797, 25.3), (0.3970, 27.9), (0.4143, 29.2), (0.4316, 29.7), (0.4489, 29.2), (0.4661, 27.9),
                 (0.4834, 26.1), (0.5007, 24.6), (0.5180, 23.6), (0.5353, 23.6), (0.5526, 24.6), (0.5699, 26.1)]
FIT_QE_T57 = [(0.0143, 0.0), (0.0337, 0.15), (0.0510, 2.2), (0.0683, 4.2), (0.0856, 6.6), (0.1029, 9.3),
              (0.1202, 12.4), (0.1375, 15.4), (0.1548, 18.1), (0.1721, 19.6), (0.1894, 19.6), (0.2067, 18.4),
              (0.2240, 14.9), (0.2413, 11.9), (0.2586, 8.8), (0.2759, 7.0), (0.2932, 5.9), (0.3105, 4.7),
              (0.3321, 3.7), (0.3537, 3.0), (0.3754, 2.3), (0.3970, 1.8), (0.4186, 1.4), (0.4402, 1.2),
              (0.4619, 0.8), (0.4834, 0.5), (0.5266, 0.15), (0.5699, 0.0)]
JOURDAN_T57 = [(0.0467, 1.68, 0.5), (0.0856, 6.00, 0.6), (0.1245, 12.62, 0.7), (0.1453, 16.95, 0.8), (0.1656, 17.71, 0.8),
               (0.1859, 18.12, 0.8), (0.2058, 18.12, 0.8), (0.2262, 16.69, 0.8), (0.2456, 14.40, 0.8), (0.2659, 12.37, 0.8),
               (0.2858, 12.11, 0.8), (0.3057, 13.13, 0.8), (0.3256, 14.66, 0.9), (0.3451, 17.30, 1.0)]
BARREAU_T57 = [(0.0359, 1.68, 0.5), (0.0411, 2.04, 0.5), (0.0463, 2.70, 0.5), (0.0515, 3.21, 0.5), (0.0566, 3.97, 0.5),
               (0.0618, 4.73, 0.5), (0.0670, 5.75, 0.5), (0.0722, 6.51, 0.5), (0.0774, 7.28, 0.5), (0.0826, 8.04, 0.5),
               (0.0878, 8.80, 0.6), (0.0930, 9.67, 0.6), (0.0982, 10.59, 0.6), (0.1034, 11.60, 0.6), (0.1085, 12.62, 0.6),
               (0.1137, 13.64, 0.7), (0.1189, 14.55, 0.7), (0.1241, 15.42, 0.7), (0.1293, 16.28, 0.7), (0.1345, 17.20, 0.8),
               (0.1397, 17.81, 0.8), (0.1449, 18.32, 0.8), (0.1501, 18.83, 0.8), (0.1552, 19.34, 0.8), (0.1604, 19.64, 0.8),
               (0.1656, 19.75, 0.8), (0.1764, 20.00, 0.8), (0.1829, 20.00, 0.8), (0.1894, 19.75, 0.8), (0.1959, 19.24, 0.8),
               (0.2024, 18.73, 0.8), (0.2089, 17.96, 0.8), (0.2154, 17.30, 0.8), (0.2218, 16.59, 0.8), (0.2283, 15.78, 0.8),
               (0.2348, 15.01, 0.8), (0.2413, 14.30, 0.8), (0.2478, 13.64, 0.8), (0.2543, 13.13, 0.8), (0.2608, 12.72, 0.8),
               (0.2672, 12.52, 0.8), (0.2737, 12.47, 0.8), (0.2802, 12.62, 0.8), (0.2867, 12.88, 0.8), (0.2932, 13.23, 0.8),
               (0.2997, 13.64, 0.9), (0.3062, 14.15, 0.9), (0.3126, 14.76, 0.9), (0.3191, 15.42, 1.0), (0.3256, 16.18, 1.0),
               (0.3321, 17.20, 1.0), (0.3386, 18.22, 1.0), (0.3451, 19.24, 1.0), (0.3515, 20.25, 1.0), (0.3580, 21.27, 1.2),
               (0.3632, 22.54, 1.2)]
THIS_T57 = [(0.0510, 1.68, 0.6), (0.0562, 1.83, 0.6), (0.0653, 3.20, 0.8), (0.0692, 3.46, 0.8), (0.0726, 4.48, 0.8),
            (0.0770, 4.48, 0.8), (0.0813, 5.75, 0.8), (0.0878, 7.43, 0.8), (0.0934, 7.53, 0.8), (0.0995, 8.14, 0.8),
            (0.1051, 9.06, 0.8), (0.1116, 10.33, 0.8), (0.1168, 11.60, 0.8), (0.1271, 14.30, 0.8), (0.1315, 13.89, 0.8),
            (0.1397, 15.57, 0.8), (0.1440, 16.44, 0.8), (0.1505, 16.18, 0.8), (0.1578, 17.46, 0.8), (0.1656, 18.98, 0.8),
            (0.1686, 18.83, 0.8), (0.1730, 19.75, 0.8), (0.1799, 19.08, 1.0), (0.1877, 19.24, 1.0), (0.1946, 19.39, 1.0),
            (0.2015, 20.41, 1.0), (0.2045, 19.90, 2.0), (0.2097, 18.98, 1.0), (0.2166, 18.12, 1.0), (0.2240, 17.96, 1.0),
            (0.2374, 15.67, 1.0), (0.2439, 15.17, 1.0), (0.2556, 14.30, 1.0), (0.2655, 13.89, 1.0), (0.2716, 13.28, 1.0),
            (0.2780, 12.52, 1.0), (0.2858, 12.62, 1.0), (0.2923, 13.79, 1.5), (0.2997, 13.28, 1.0), (0.3126, 14.15, 1.0),
            (0.3278, 16.95, 1.0), (0.3416, 17.96, 1.2), (0.4251, 23.82, 2.5), (0.4346, 29.82, 2.7), (0.4614, 35.37, 3.0),
            (0.4899, 31.20, 3.7), (0.4986, 37.81, 3.3), (0.5046, 37.20, 11.0)]
PHOTO_T57 = [(0.570, 26.7)]

PANEL_DATA = [
    dict(kind="L", total=FIT_TOTAL_L30, qe=FIT_QE_L30, yam=YAMAGUCHI_L30, jou=JOURDAN_L30, bar=BARREAU_L30,
         buki=BUKI_L30, this=THIS_L30, photo=None, ymax=50.0, ydtick=10, yminor=2, yfmt="d"),
    dict(kind="T", total=FIT_TOTAL_T30, qe=FIT_QE_T30, yam=YAMAGUCHI_T30, jou=JOURDAN_T30, bar=BARREAU_T30,
         buki=BUKI_T30, this=THIS_T30, photo=PHOTO_T30, ymax=44.1, ydtick=10, yminor=2, yfmt="d"),
    dict(kind="L", total=FIT_TOTAL_L38, qe=FIT_QE_L38, yam=None, jou=JOURDAN_L38, bar=BARREAU_L38,
         buki=None, this=THIS_L38, photo=None, ymax=44.0, ydtick=10, yminor=2, yfmt="d"),
    dict(kind="T", total=FIT_TOTAL_T38, qe=FIT_QE_T38, yam=None, jou=JOURDAN_T38, bar=BARREAU_T38,
         buki=None, this=THIS_T38, photo=PHOTO_T38, ymax=45.0, ydtick=10, yminor=2, yfmt="d"),
    dict(kind="L", total=FIT_TOTAL_L57, qe=FIT_QE_L57, yam=None, jou=JOURDAN_L57, bar=BARREAU_L57,
         buki=None, this=THIS_L57, photo=None, ymax=15.0, ydtick=2.5, yminor=0.5, yfmt=".1f"),
    dict(kind="T", total=FIT_TOTAL_T57, qe=FIT_QE_T57, yam=None, jou=JOURDAN_T57, bar=BARREAU_T57,
         buki=None, this=THIS_T57, photo=PHOTO_T57, ymax=49.0, ydtick=10, yminor=2, yfmt="d"),
]

# ------------------------------------------------------------------
# Layout / style
# ------------------------------------------------------------------
W, H = 1632, 1289
SERIF = "Liberation Serif"
AX_COLOR = "#404040"
TXT = "#222222"
ROWS_PX = [(12.7, 333.7), (389.0, 710.0), (765.0, 1086.0)]
COLS_PX = [(99.0, 820.0), (911.5, 1631.0)]
RIGHT_SCALE = 0.994
TITLE_Y_PX = [40, 414, 791]

C_ORANGE = "#ff8c00"
C_TURQ = "#40e0d0"
C_BROWN = "#a52a2a"
C_SLATE = "#6a5acd"
DASHDOT = "10px,3px,2px,3px"


def px_x(x):
    return x / W


def px_y(y):
    return 1 - y / H


fig = go.Figure()
seen = set()


def legend_flags(key):
    first = key not in seen
    seen.add(key)
    return first


LEGEND_OF = {
    "total": ("legend", 1), "qe": ("legend", 2), "yam": ("legend", 3), "jou": ("legend", 4),
    "bar": ("legend2", 1), "buki": ("legend2", 2), "this": ("legend2", 3), "w093": ("legend2", 4),
    "w107": ("legend3", 1), "q2": ("legend3", 2), "photo": ("legend3", 3), "w123": ("legend3", 4),
}
NAMES = {
    "total": "RL(total), RT(total) Christy-Bodek Fit",
    "qe": "RL(QE), RT(QE+TE) Christy-Bodek Fit",
    "yam": "RL, RT Yamaguchi",
    "jou": "RL, RT Jourdan",
    "bar": "RL, RT Barreau",
    "buki": "RL, RT Buki",
    "this": "RL, RT this analysis",
    "w093": "<i>W</i> = 0.93 <i>GeV</i>",
    "w107": "<i>W</i> = 1.07 <i>GeV</i>",
    "q2": "<i>Q</i><sup>2</sup> = 0 <i>GeV</i><sup>2</sup>",
    "photo": "RT Photo-production",
    "w123": "<i>W</i> = 1.23 <i>GeV</i>",
}


def common_kwargs(key, xa, ya):
    leg, rank = LEGEND_OF[key]
    return dict(name=NAMES[key], xaxis=xa, yaxis=ya, legend=leg, legendrank=rank,
                legendgroup=key, showlegend=legend_flags(key))


def add_curve(pts, key, dash, xa, ya):
    fig.add_trace(go.Scatter(
        x=[p[0] for p in pts], y=[p[1] for p in pts], mode="lines",
        line=dict(color="black", width=2, dash=dash, shape="spline", smoothing=0.6),
        hoverinfo="skip", **common_kwargs(key, xa, ya)))


def add_vline(nu, ymax, key, color, xa, ya):
    fig.add_trace(go.Scatter(
        x=[nu, nu], y=[0, ymax], mode="lines", line=dict(color=color, width=1.8, dash=DASHDOT),
        hoverinfo="skip", **common_kwargs(key, xa, ya)))


def add_points(pts, key, symbol, color, size, ecolor, xa, ya, lw=0.8):
    fig.add_trace(go.Scatter(
        x=[p[0] for p in pts], y=[p[1] for p in pts], mode="markers",
        marker=dict(symbol=symbol, color=color, size=size, line=dict(color="black", width=lw)),
        error_y=dict(type="data", array=[p[2] for p in pts], color=ecolor, thickness=1.6, width=0),
        cliponaxis=True, **common_kwargs(key, xa, ya)))


annotations = []
for i, pdat in enumerate(PANEL_DATA):
    r, c = divmod(i, 2)
    q = Q_VALUES[r]
    xa, ya = f"x{i + 1}", f"y{i + 1}"
    ymax = pdat["ymax"]

    add_curve(pdat["total"], "total", "solid", xa, ya)
    add_curve(pdat["qe"], "qe", "8px,4px", xa, ya)
    add_vline(NU_W093[r], ymax, "w093", C_ORANGE, xa, ya)
    add_vline(NU_W107[r], ymax, "w107", C_TURQ, xa, ya)
    if NU_W123[r] is not None:
        add_vline(NU_W123[r], ymax, "w123", C_SLATE, xa, ya)
    add_vline(NU_Q2ZERO[r], ymax, "q2", C_BROWN, xa, ya)

    if pdat["yam"]:
        add_points(pdat["yam"], "yam", "circle", "#00e8e8", 8, "rgba(90,90,90,0.7)", xa, ya, lw=0.7)
    add_points(pdat["jou"], "jou", "triangle-down", "#2ca02c", 10, "rgba(120,220,120,0.8)", xa, ya)
    add_points(pdat["bar"], "bar", "circle", "#ffff00", 9, "rgba(110,110,110,0.75)", xa, ya)
    if pdat["buki"]:
        add_points(pdat["buki"], "buki", "cross", "#0a0ad0", 10, "rgba(110,110,255,0.6)", xa, ya)
    add_points(pdat["this"], "this", "diamond", "#ff0000", 12, "rgba(245,110,110,0.8)", xa, ya)
    if pdat["photo"]:
        fig.add_trace(go.Scatter(
            x=[p[0] for p in pdat["photo"]], y=[p[1] for p in pdat["photo"]], mode="markers",
            marker=dict(symbol="triangle-up", color="#00e000", size=14, line=dict(color="black", width=1)),
            cliponaxis=False, **common_kwargs("photo", xa, ya)))

    # axes
    x0, x1 = COLS_PX[c]
    y0, y1 = ROWS_PX[r]
    xend = 1.05 * q * (RIGHT_SCALE if c == 1 else 1.0)
    bottom_row = r == 2
    axis_base = dict(showline=True, linecolor=AX_COLOR, linewidth=1.3, mirror="allticks",
                     ticks="inside", ticklen=7, tickwidth=1.1, tickcolor=AX_COLOR,
                     showgrid=False, zeroline=False, automargin=False,
                     tickfont=dict(family=SERIF, size=23, color=TXT))
    fig.layout[f"xaxis{i + 1}"] = dict(
        axis_base, domain=[px_x(x0), px_x(x1)], anchor=ya, range=[0, xend],
        tick0=0, dtick=0.1 if bottom_row else 0.05, tickformat=".1f" if bottom_row else ".2f",
        minor=dict(ticks="inside", ticklen=4, tickwidth=1, tickcolor=AX_COLOR, tick0=0,
                   dtick=0.02 if bottom_row else 0.01, showgrid=False))
    fig.layout[f"yaxis{i + 1}"] = dict(
        axis_base, domain=[px_y(y1), px_y(y0)], anchor=xa, range=[0, ymax],
        tick0=0, dtick=pdat["ydtick"], tickformat=pdat["yfmt"],
        minor=dict(ticks="inside", ticklen=4, tickwidth=1, tickcolor=AX_COLOR, tick0=0,
                   dtick=pdat["yminor"], showgrid=False))

    # panel heading
    sub = "L" if pdat["kind"] == "L" else "T"
    color = "#0000ff" if pdat["kind"] == "L" else "#ff0000"
    annotations.append(dict(
        x=px_x((x0 + x1) / 2), y=px_y(TITLE_Y_PX[r]), xref="paper", yref="paper",
        text=f"<b><i>R<sub>{sub}</sub></i> : |q|</b> = {Q_LABELS[r]} <b><i>GeV</i></b>",
        showarrow=False, xanchor="center", yanchor="middle",
        font=dict(family=SERIF, size=38, color=color)))
    # y-axis title
    annotations.append(dict(
        x=px_x(x0 - 54), y=px_y((y0 + y1) / 2), xref="paper", yref="paper", textangle=-90,
        text=f"<b><i>R<sub>{sub}</sub></i> (<i>GeV</i><sup>−1</sup>)</b>",
        showarrow=False, xanchor="center", yanchor="middle",
        font=dict(family=SERIF, size=25, color=TXT)))
    if bottom_row:
        annotations.append(dict(
            x=px_x((x0 + x1) / 2), y=px_y(1134), xref="paper", yref="paper",
            text="<i>ν</i> (<i>GeV</i>)", showarrow=False, xanchor="center", yanchor="middle",
            font=dict(family=SERIF, size=29, color=TXT)))


# speech-bubble callout (runs off the right edge of the canvas)
def bubble_path():
    left, top, bot, rad = 1423.0, 1109.0, 1230.0, 18.0
    right = 1900.0
    pts = [f"M {px_x(left + rad)},{px_y(top)}",
           f"L {px_x(1492.7)},{px_y(top)}",
           f"L {px_x(1495.0)},{px_y(1038.0)}",
           f"L {px_x(1591.7)},{px_y(top)}",
           f"L {px_x(right)},{px_y(top)}",
           f"L {px_x(right)},{px_y(bot)}",
           f"L {px_x(left + rad)},{px_y(bot)}",
           f"Q {px_x(left)},{px_y(bot)} {px_x(left)},{px_y(bot - rad)}",
           f"L {px_x(left)},{px_y(top + rad)}",
           f"Q {px_x(left)},{px_y(top)} {px_x(left + rad)},{px_y(top)}",
           "Z"]
    return " ".join(pts)


fig.add_shape(type="path", path=bubble_path(), xref="paper", yref="paper",
              fillcolor="#bde0e2", line=dict(color="#4f6466", width=2.5), layer="above")
annotations.append(dict(x=px_x(1486), y=px_y(1146), xref="paper", yref="paper", text="Our extraction",
                        showarrow=False, xanchor="left", yanchor="middle",
                        font=dict(family="Open Sans", size=37, color="#ff0000")))
annotations.append(dict(x=px_x(1525), y=px_y(1197), xref="paper", yref="paper", text="red scatter",
                        showarrow=False, xanchor="left", yanchor="middle",
                        font=dict(family="Open Sans", size=37, color="#ff0000")))

legend_style = dict(font=dict(family=SERIF, size=23, color=TXT), bgcolor="rgba(0,0,0,0)",
                    orientation="v", xanchor="left", yanchor="top", tracegroupgap=0,
                    xref="container", yref="container",
                    itemclick=False, itemdoubleclick=False)
fig.update_layout(
    width=W, height=H, margin=dict(l=0, r=0, t=0, b=0, autoexpand=False),
    paper_bgcolor="white", plot_bgcolor="white",
    annotations=annotations,
    legend=dict(legend_style, x=px_x(278), y=px_y(1155)),
    legend2=dict(legend_style, x=px_x(813), y=px_y(1155)),
    legend3=dict(legend_style, x=px_x(1133), y=px_y(1155)),
)

fig.write_html("out.html")
